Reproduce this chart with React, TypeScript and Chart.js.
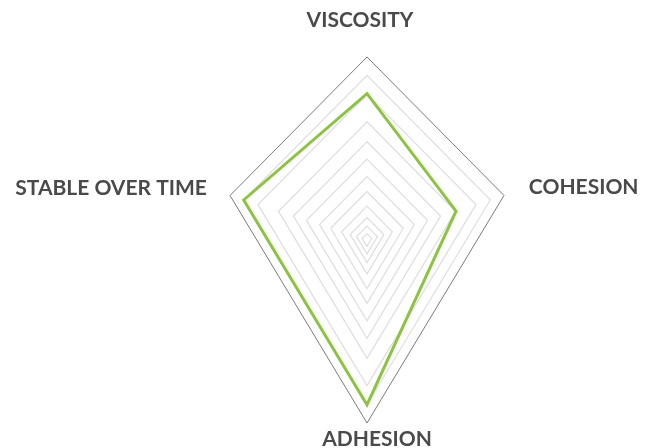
import React, { useEffect, useRef } from 'react';
import { Chart, registerables } from 'chart.js';

Chart.register(...registerables);

// ---- data ----
const categories = ['VISCOSITY', 'COHESION', 'ADHESION', 'STABLE OVER TIME'];
const seriesValues = [8, 6.5, 9, 9];
const gridLevels = [0.35, 0.76, 1.23, 1.85, 2.65, 3.46, 4.42, 5.37, 6.46, 7.96, 9];
const outerLevel = 10;
const scaleMax = 10;

// ---- axis geometry (which of 10 evenly spaced spokes each category uses, and its reach) ----
const slotCount = 10;
const axisSlots = [0, 2, 5, 8];
const axisReach = [1, 0.787, 1, 0.787];

function toSlots(vals: number[]): (number | null)[] {
  const arr: (number | null)[] = new Array(slotCount).fill(null);
  vals.forEach((v, i) => {
    arr[axisSlots[i]] = v * axisReach[i];
  });
  return arr;
}

const labelLayout = [
  { dist: 1.2, align: 'center', dx: -7, dy: 0 },
  { dist: 0.93, align: 'left', dx: 0, dy: 0 },
  { dist: 1.087, align: 'center', dx: 10, dy: 0 },
  { dist: 0.92, align: 'right', dx: 0, dy: 0 },
];

const labelPlugin = {
  id: 'kiteLabels',
  afterDraw(chart: any) {
    const scale = chart.scales.r;
    const ctx = chart.ctx;
    ctx.save();
    ctx.font = 'bold 21px Lato, "DejaVu Sans", sans-serif';
    ctx.fillStyle = '#4a4a4a';
    ctx.textBaseline = 'middle';
    categories.forEach((label, i) => {
      const lay = labelLayout[i];
      const p = scale.getPointPosition(axisSlots[i], scale.drawingArea * lay.dist);
      ctx.textAlign = lay.align;
      ctx.fillText(label, p.x + lay.dx, p.y + lay.dy);
    });
    ctx.restore();
  },
};

export default function App() {
  const ref = useRef<HTMLCanvasElement | null>(null);

  useEffect(() => {
    if (!ref.current) return;
    const slotLabels = new Array(slotCount).fill('').map((_, i) => {
      const k = axisSlots.indexOf(i);
      return k >= 0 ? categories[k] : '';
    });
    const datasets: any[] = [
      {
        label: 'Product',
        data: toSlots(seriesValues),
        borderColor: '#8dc343',
        borderWidth: 3,
        fill: false,
        spanGaps: true,
        borderJoinStyle: 'miter',
        pointRadius: 0,
      },
      {
        label: 'outer',
        data: toSlots(categories.map(() => outerLevel)),
        borderColor: '#7a7a7a',
        borderWidth: 1,
        fill: false,
        spanGaps: true,
        borderJoinStyle: 'miter',
        pointRadius: 0,
      },
      ...gridLevels
        .slice()
        .reverse()
        .map((lv) => ({
          label: 'grid' + lv,
          data: toSlots(categories.map(() => lv)),
          borderColor: '#dddddd',
          borderWidth: 1.2,
          fill: false,
          spanGaps: true,
          borderJoinStyle: 'miter',
          pointRadius: 0,
        })),
    ];
    const chart = new Chart(ref.current, {
      type: 'radar',
      data: { labels: slotLabels, datasets },
      options: {
        responsive: false,
        animation: false,
        layout: { padding: { top: 57, bottom: 25, left: 100, right: 23 } },
        plugins: { legend: { display: false }, tooltip: { enabled: false } },
        elements: { line: { tension: 0 }, point: { radius: 0 } },
        scales: {
          r: {
            min: 0,
            max: scaleMax,
            ticks: { display: false },
            grid: { display: false },
            angleLines: { display: false },
            pointLabels: { display: false },
          },
        },
      },
      plugins: [labelPlugin],
    } as any);
    return () => chart.destroy();
  }, []);

  return (
    <div style={{ position: 'fixed', left: 0, top: 0, width: 657, height: 448, background: '#fff' }}>
      <canvas ref={ref} width={657} height={448} style={{ display: 'block', width: 657, height: 448 }} />
    </div>
  );
}
